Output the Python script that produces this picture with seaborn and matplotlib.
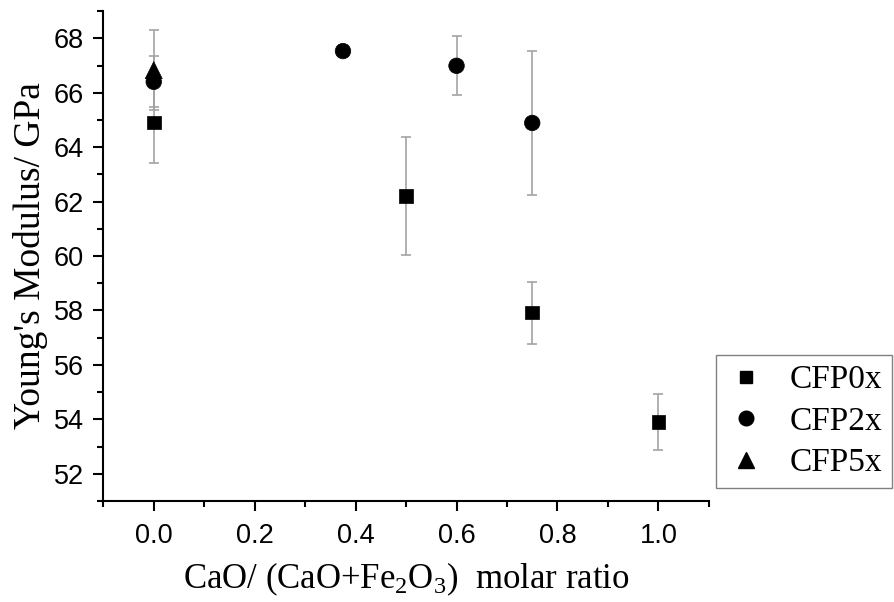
import matplotlib
matplotlib.use("Agg")
import matplotlib.pyplot as plt
import seaborn as sns
import pandas as pd
from matplotlib.lines import Line2D

# Young's modulus vs. CaO/(CaO+Fe2O3) molar ratio for three glass series
cfp0_x = [0.0, 0.5, 0.75, 1.0]
cfp0_y = [64.91, 62.20, 57.92, 53.90]
cfp0_err = [1.49, 2.18, 1.14, 1.03]

cfp2_x = [0.0, 0.375, 0.6, 0.75]
cfp2_y = [66.40, 67.53, 66.99, 64.89]
cfp2_err = [0.94, 0.10, 1.08, 2.64]

cfp5_x = [0.0]
cfp5_y = [66.83]
cfp5_err = [1.46]

series_names = ["CFP0x", "CFP2x", "CFP5x"]
x_ticks = [0.0, 0.2, 0.4, 0.6, 0.8, 1.0]
y_ticks = [52, 54, 56, 58, 60, 62, 64, 66, 68]

sns.set_style("ticks")
plt.rcParams["font.family"] = ["Liberation Serif", "DejaVu Serif"]
plt.rcParams["mathtext.default"] = "regular"
for key in ("text.color", "axes.labelcolor", "xtick.color", "ytick.color",
            "xtick.labelcolor", "ytick.labelcolor", "axes.edgecolor"):
    plt.rcParams[key] = "black"

frames = []
for name, xs, ys, es in zip(series_names,
                            [cfp0_x, cfp2_x, cfp5_x],
                            [cfp0_y, cfp2_y, cfp5_y],
                            [cfp0_err, cfp2_err, cfp5_err]):
    frames.append(pd.DataFrame({"ratio": xs, "modulus": ys, "err": es, "series": name}))
df = pd.concat(frames, ignore_index=True)

fig = plt.figure(figsize=(8.95, 6.02), dpi=100)
ax = fig.add_axes([0.1154, 0.1678, 0.6766, 0.8138])

# grey error bars underneath the markers
for name in series_names:
    sub = df[df["series"] == name]
    ax.errorbar(sub["ratio"], sub["modulus"], yerr=sub["err"], fmt="none",
                ecolor="#a3a3a3", elinewidth=1.2, capsize=3.8, capthick=1.2,
                zorder=1)

sns.scatterplot(data=df, x="ratio", y="modulus", style="series",
                markers={"CFP0x": "s", "CFP2x": "o", "CFP5x": "^"},
                size="series", sizes={"CFP0x": 95, "CFP2x": 125, "CFP5x": 150},
                color="black", edgecolor="black", linewidth=0.5,
                ax=ax, zorder=3, legend=False)

ax.set_xlim(-0.1, 1.1)
ax.set_ylim(51, 69)
ax.set_xticks(x_ticks)
ax.set_xticks([-0.1, 0.1, 0.3, 0.5, 0.7, 0.9, 1.1], minor=True)
ax.set_yticks(y_ticks)
ax.set_yticks([51, 53, 55, 57, 59, 61, 63, 65, 67, 69], minor=True)
ax.set_xticklabels([f"{t:.1f}" for t in x_ticks])
ax.set_yticklabels([str(t) for t in y_ticks])

for lab in ax.get_xticklabels() + ax.get_yticklabels():
    lab.set_fontfamily(["Liberation Sans", "DejaVu Sans"])
    lab.set_fontsize(19.5)
    lab.set_color("black")

ax.tick_params(which="major", length=7, width=1.5, color="black")
ax.tick_params(which="minor", length=4.5, width=1.5, color="black")
ax.tick_params(axis="x", which="major", pad=9)
ax.tick_params(axis="y", which="major", pad=7)
sns.despine(ax=ax)
for side in ("left", "bottom"):
    ax.spines[side].set_linewidth(1.5)
    ax.spines[side].set_color("black")

ax.set_xlabel("CaO/ (CaO+Fe$_2$O$_3$)  molar ratio", fontsize=25, labelpad=8,
              color="black")
ax.set_ylabel("Young's Modulus/ GPa", fontsize=27, labelpad=4, color="black")

# legend box placed to the right of the axes
handles = [
    Line2D([], [], marker="s", color="black", linestyle="none", markersize=9),
    Line2D([], [], marker="o", color="black", linestyle="none", markersize=10.5),
    Line2D([], [], marker="^", color="black", linestyle="none", markersize=11.5),
]
leg = fig.legend(handles, series_names, loc="upper left",
                 bbox_to_anchor=(0.80, 0.4103), fontsize=24, frameon=True,
                 fancybox=False, edgecolor="#808080", framealpha=1,
                 handlelength=1.2, handletextpad=0.7, labelspacing=0.33,
                 borderpad=0.3, borderaxespad=0)
leg.get_frame().set_linewidth(1.0)
for t in leg.get_texts():
    t.set_color("black")

fig.savefig("out.png", dpi=100, facecolor="white")
